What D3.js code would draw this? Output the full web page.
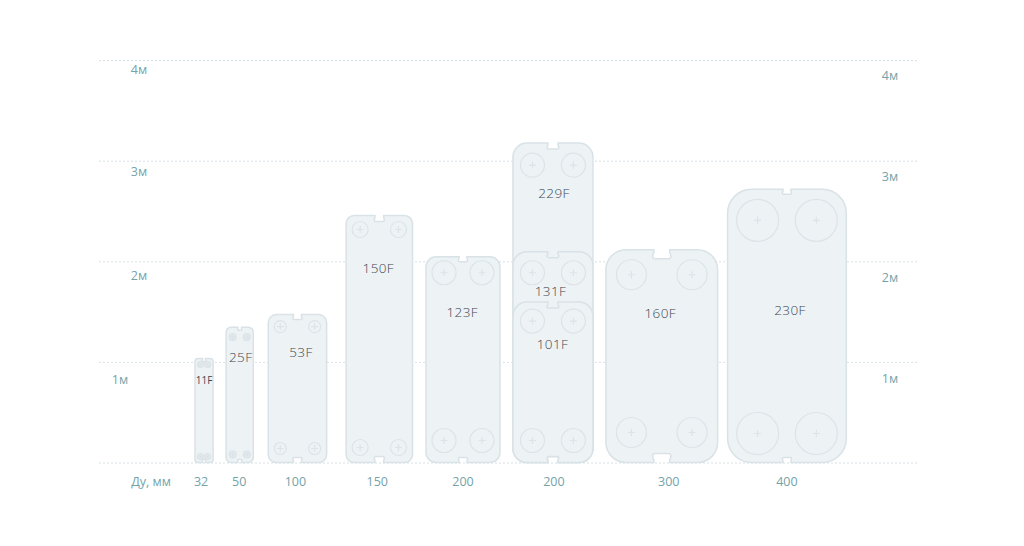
<!DOCTYPE html>
<html lang="ru">
<head>
    <meta charset="utf-8">
    <title>Пластины</title>
    <style type="text/css">
        body { margin: 0; background: #fff; }
        svg { display: block; }
        text { font-family: "Open Sans", sans-serif; }
        .grid { stroke: #d6e1e5; stroke-width: 1px; stroke-dasharray: 2 2; }
        .axisText { fill: #74a3a9; font-size: 12.5px; text-anchor: middle; }
        .plate { fill: #edf2f5; stroke: #d9e2e6; stroke-width: 1.5px; }
        .port { fill: none; stroke: #dce4e7; stroke-width: 1.2px; }
        .portSmall { fill: #e2e9ec; }
        .plateText { fill: #3d4850; font-size: 13.5px; font-weight: 300; text-anchor: middle; letter-spacing: 0.4px; }
    </style>
</head>
<body>
<script src="https://cdn.jsdelivr.net/npm/d3@7/dist/d3.min.js"></script>
<script>
    // chart values, all in metres unless noted
    var heightTicks = [1, 2, 3, 4];
    var gridLevels = [0, 1, 2, 3, 4];
    var axisTitle = "Ду, мм";
    var dnLabels = ["32", "50", "100", "150", "200", "200", "300", "400"];
    var columnWidths = [0.18, 0.27, 0.58, 0.66, 0.735, 0.795, 1.11, 1.18];

    var plateNames = ["11F", "25F", "53F", "150F", "123F", "229F", "131F", "101F", "160F", "230F"];
    var plateColumns = [0, 1, 2, 3, 4, 5, 5, 5, 6, 7];
    var plateHeights = [1.04, 1.35, 1.475, 2.46, 2.05, 3.18, 2.10, 1.60, 2.12, 2.72];
    var labelHeights = [0.83, 1.05, 1.10, 1.93, 1.50, 2.68, 1.70, 1.18, 1.49, 1.52];

    // layout, px
    var width = 1024, height = 546;
    var metre = 100.6;
    var baseline = 463;
    var columnGaps = [13, 15, 19.5, 13.5, 13, 13, 10];
    var dnShift = [-3, -0.5, -2, -2, 0, 1, 7, 0];
    var labelShift = [0, 1, 3.5, -1, -0.7, 1, -2.5, -0.5, -1.5, 3];
    var leftLabelX = [120, 139, 139, 139];
    var leftLabelDy = [17.5, 14.5, 11, 9.5];
    var rightLabelDy = [16.5, 16.5, 16, 15.5];

    // r corner, nw notch width, nd notch depth, pr port radius, ix port inset x,
    // it / ib port inset top / bottom, cr half size of the cross
    var plateShapes = {
        "11F":  {r: 3,  nw: 4,  nd: 3, pr: 3,  ix: 5.5, it: 6,  ib: 6,  cr: 1.5},
        "25F":  {r: 5,  nw: 5,  nd: 3, pr: 3.5, ix: 6.5, it: 10, ib: 8,  cr: 2.5},
        "53F":  {r: 8,  nw: 11, nd: 5, pr: 6,  ix: 12,  it: 12, ib: 14, cr: 3.5},
        "150F": {r: 8,  nw: 12, nd: 6, pr: 8,  ix: 14,  it: 14, ib: 15, cr: 3.5},
        "123F": {r: 10, nw: 11, nd: 5, pr: 12, ix: 18,  it: 16, ib: 22, cr: 3.5},
        "229F": {r: 14, nw: 14, nd: 6, pr: 12, ix: 19.5, it: 22, ib: 22, cr: 3.5},
        "131F": {r: 14, nw: 14, nd: 6, pr: 12, ix: 19.5, it: 21, ib: 22, cr: 3.5},
        "101F": {r: 14, nw: 14, nd: 6, pr: 12, ix: 19.5, it: 19, ib: 22, cr: 3.5},
        "160F": {r: 20, nw: 22, nd: 9, pr: 15, ix: 25.5, it: 25, ib: 30, cr: 3.5},
        "230F": {r: 24, nw: 11, nd: 5, pr: 21, ix: 30,  it: 31, ib: 29, cr: 3.5}
    };

    var x = d3.scaleLinear().domain([0, 1]).range([195, 195 + metre]);
    var y = d3.scaleLinear().domain([0, 1]).range([baseline, baseline - metre]);

    // left edge of each column from the widths and gaps
    var columnLeft = [x(0)];
    columnWidths.forEach(function(w, i) {
        if (i < columnGaps.length) {
            columnLeft.push(columnLeft[i] + (x(w) - x(0)) + columnGaps[i]);
        }
    });
    function columnWidthPx(i) { return x(columnWidths[i]) - x(0); }
    function columnCentre(i) { return columnLeft[i] + columnWidthPx(i) / 2; }

    var svg = d3.select("body").append("svg")
        .attr("width", width)
        .attr("height", height);

    svg.selectAll(".grid")
        .data(gridLevels)
        .enter().append("line")
        .attr("class", "grid")
        .attr("x1", 99)
        .attr("x2", 918)
        .attr("y1", function(d) { return y(d); })
        .attr("y2", function(d) { return y(d); });

    svg.selectAll(".leftLabel")
        .data(heightTicks)
        .enter().append("text")
        .attr("class", "axisText leftLabel")
        .attr("x", function(d, i) { return leftLabelX[i]; })
        .attr("y", function(d, i) { return y(d) + leftLabelDy[i] + 4; })
        .text(function(d) { return d + "м"; });

    svg.selectAll(".rightLabel")
        .data(heightTicks)
        .enter().append("text")
        .attr("class", "axisText rightLabel")
        .attr("x", 890)
        .attr("y", function(d, i) { return y(d) + rightLabelDy[i] + 4; })
        .text(function(d) { return d + "м"; });

    svg.append("text")
        .attr("class", "axisText")
        .attr("x", 151)
        .attr("y", 485.5)
        .text(axisTitle);

    svg.selectAll(".dnLabel")
        .data(dnLabels)
        .enter().append("text")
        .attr("class", "axisText dnLabel")
        .attr("x", function(d, i) { return columnCentre(i) + dnShift[i]; })
        .attr("y", 485.5)
        .text(function(d) { return d; });

    // outline: rounded box with a T-shaped slot in the top and bottom edge
    function platePath(x0, y0, x1, y1, s) {
        var cx = (x0 + x1) / 2,
            half = s.nw / 2,
            neck = half * 0.72,
            d = s.nd,
            p = d3.path();
        p.moveTo(x0 + s.r, y0);
        p.lineTo(cx - neck, y0);
        p.lineTo(cx - neck, y0 + d * 0.3);
        p.quadraticCurveTo(cx - half, y0 + d, cx - half * 0.6, y0 + d);
        p.lineTo(cx + half * 0.6, y0 + d);
        p.quadraticCurveTo(cx + half, y0 + d, cx + neck, y0 + d * 0.3);
        p.lineTo(cx + neck, y0);
        p.lineTo(x1 - s.r, y0);
        p.arcTo(x1, y0, x1, y0 + s.r, s.r);
        p.lineTo(x1, y1 - s.r);
        p.arcTo(x1, y1, x1 - s.r, y1, s.r);
        p.lineTo(cx + neck, y1);
        p.lineTo(cx + neck, y1 - d * 0.3);
        p.quadraticCurveTo(cx + half, y1 - d, cx + half * 0.6, y1 - d);
        p.lineTo(cx - half * 0.6, y1 - d);
        p.quadraticCurveTo(cx - half, y1 - d, cx - neck, y1 - d * 0.3);
        p.lineTo(cx - neck, y1);
        p.lineTo(x0 + s.r, y1);
        p.arcTo(x0, y1, x0, y1 - s.r, s.r);
        p.lineTo(x0, y0 + s.r);
        p.arcTo(x0, y0, x0 + s.r, y0, s.r);
        p.closePath();
        return p.toString();
    }

    var plates = svg.selectAll(".plateGroup")
        .data(plateNames)
        .enter().append("g")
        .attr("class", "plateGroup");

    plates.each(function(name, i) {
        var g = d3.select(this),
            s = plateShapes[name],
            col = plateColumns[i],
            x0 = columnLeft[col],
            x1 = x0 + columnWidthPx(col),
            top = y(plateHeights[i]),
            bottom = y(0) - 0.5;

        g.append("path")
            .attr("class", "plate")
            .attr("d", platePath(x0, top, x1, bottom, s));

        var ports = [
            [x0 + s.ix, top + s.it],
            [x1 - s.ix, top + s.it],
            [x0 + s.ix, bottom - s.ib],
            [x1 - s.ix, bottom - s.ib]
        ];
        ports.forEach(function(c) {
            g.append("circle")
                .attr("class", s.pr < 4 ? "port portSmall" : "port")
                .attr("cx", c[0])
                .attr("cy", c[1])
                .attr("r", s.pr);
            g.append("path")
                .attr("class", "port")
                .attr("d", "M" + (c[0] - s.cr) + "," + c[1] + "H" + (c[0] + s.cr) +
                    "M" + c[0] + "," + (c[1] - s.cr) + "V" + (c[1] + s.cr));
        });

        var label = g.append("text")
            .attr("class", "plateText")
            .attr("x", columnCentre(col) + labelShift[i])
            .attr("y", y(labelHeights[i]) + 4.5)
            .text(name);
        if (name == "11F") {
            label.style("font-size", "10px")
                .style("font-weight", 400)
                .style("letter-spacing", "0");
        }
    });
</script>
</body>
</html>
